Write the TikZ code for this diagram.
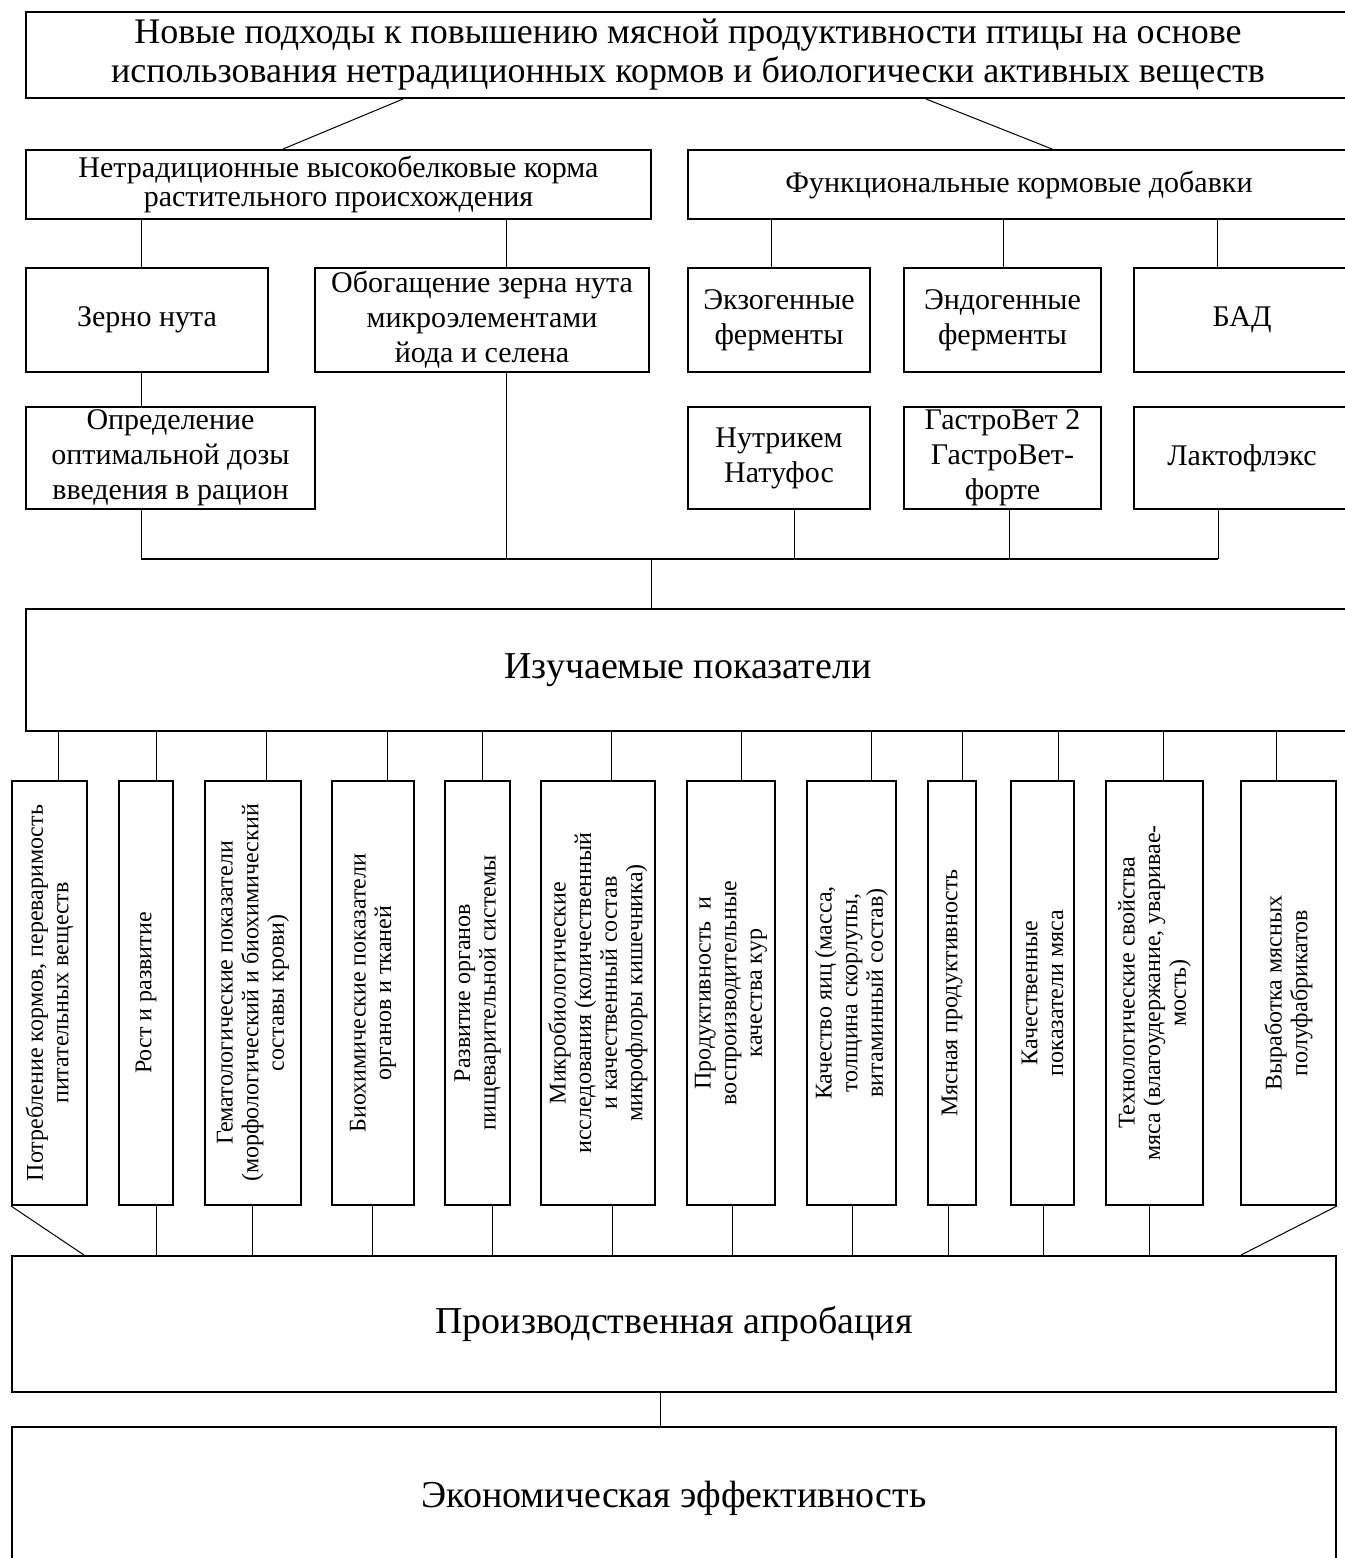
\documentclass[tikz,border=0pt]{standalone}
\usepackage{fontspec}
\setmainfont{Liberation Serif}
\usepackage{tikz}
\newcommand{\topfont}{\fontsize{18}{19.5}\selectfont}
\newcommand{\bigfont}{\fontsize{19}{21}\selectfont}
\newcommand{\secfont}{\fontsize{15}{14.5}\selectfont}
\newcommand{\midfont}{\fontsize{15}{17.5}\selectfont}
\newcommand{\smfont}{\fontsize{12}{12.8}\selectfont}

\begin{document}
\begin{tikzpicture}[x=1pt, y=-1pt,
    box/.style={draw, line width=1pt, align=center, inner sep=0.5pt},
    vbox/.style={box, rotate=90, font=\smfont, minimum width=212pt},
    conn/.style={line width=0.5pt},
    bus/.style={line width=1pt}]

    \useasboundingbox (0,0) rectangle (672,779);

    % top level
    \node[box, font=\topfont, minimum width=662pt, minimum height=43pt] (title) at (344,27.5)
        {Новые подходы к повышению мясной продуктивности птицы на основе\\использования нетрадиционных кормов и биологически активных веществ};

    \node[box, font=\secfont, minimum width=312.5pt, minimum height=34.5pt] (korm) at (169.25,92.25)
        {Нетрадиционные высокобелковые корма\\растительного происхождения};
    \node[box, font=\secfont, minimum width=331pt, minimum height=34.5pt] (dob) at (509.5,92.25)
        {Функциональные кормовые добавки};

    \draw[conn] (title.south -| 201.5,0) -- (korm.north -| 141.5,0);
    \draw[conn] (title.south -| 463,0) -- (dob.north -| 526,0);

    % third row
    \node[box, font=\midfont, minimum width=121pt, minimum height=52pt] (zerno) at (73.5,160) {Зерно нута};
    \node[box, font=\midfont, minimum width=167pt, minimum height=52pt] (obog) at (241,160)
        {Обогащение зерна нута\\микроэлементами\\йода и селена};
    \node[box, font=\midfont, minimum width=91pt, minimum height=52pt] (exo) at (389.5,160) {Экзогенные\\ферменты};
    \node[box, font=\midfont, minimum width=98.5pt, minimum height=52pt] (endo) at (501.25,160) {Эндогенные\\ферменты};
    \node[box, font=\midfont, minimum width=108pt, minimum height=52pt] (bad) at (621,160) {БАД};

    \draw[conn] (korm.south -| 70.5,0) -- (zerno.north -| 70.5,0);
    \draw[conn] (korm.south -| 253,0) -- (obog.north -| 253,0);
    \draw[conn] (dob.south -| 385.5,0) -- (exo.north -| 385.5,0);
    \draw[conn] (dob.south -| 501.5,0) -- (endo.north -| 501.5,0);
    \draw[conn] (dob.south -| 608.5,0) -- (bad.north -| 608.5,0);

    % fourth row
    \node[box, font=\midfont, minimum width=144.5pt, minimum height=51pt] (opr) at (85.25,229)
        {Определение\\оптимальной дозы\\введения в рацион};
    \node[box, font=\midfont, minimum width=91pt, minimum height=51pt] (nutr) at (389.5,229) {Нутрикем\\Натуфос};
    \node[box, font=\midfont, minimum width=98.5pt, minimum height=51pt] (gastro) at (501.25,229)
        {ГастроВет 2\\ГастроВет-\\форте};
    \node[box, font=\midfont, minimum width=108pt, minimum height=51pt] (lakto) at (621,229) {Лактофлэкс};

    \draw[conn] (zerno.south -| 70.5,0) -- (opr.north -| 70.5,0);

    % bus
    \coordinate (busl) at (70.5,279.5);
    \coordinate (busr) at (609,279.5);
    \draw[bus] (busl) -- (busr);
    \draw[conn] (opr.south -| busl) -- (busl);
    \draw[conn] (obog.south -| 253,0) -- (253,0 |- busl);
    \draw[conn] (nutr.south -| 397,0) -- (397,0 |- busl);
    \draw[conn] (gastro.south -| 504.5,0) -- (504.5,0 |- busl);
    \draw[conn] (lakto.south -| busr) -- (busr);

    \node[box, font=\bigfont, minimum width=662pt, minimum height=61pt] (izuch) at (344,335) {Изучаемые показатели};
    \draw[conn] (325.5,0 |- busl) -- (izuch.north -| 325.5,0);

    % indicators
    \node[vbox, minimum height=37.5pt] (v1) at (24.75,496.5) {Потребление кормов, переваримость\\питательных веществ};
    \node[vbox, minimum height=27pt] (v2) at (73,496.5) {Рост и развитие};
    \node[vbox, minimum height=48pt] (v3) at (126.5,496.5)
        {Гематологические показатели\\(морфологический и биохимический\\составы крови)};
    \node[vbox, minimum height=41pt] (v4) at (186.5,496.5) {Биохимические показатели\\органов и тканей};
    \node[vbox, minimum height=32.5pt] (v5) at (238.75,496.5) {Развитие органов\\пищеварительной системы};
    \node[vbox, minimum height=57pt] (v6) at (299,496.5)
        {Микробиологические\\исследования (количественный\\и качественный состав\\микрофлоры кишечника)};
    \node[vbox, minimum height=44pt] (v7) at (365.5,496.5) {Продуктивность~ и\\воспроизводительные\\качества кур};
    \node[vbox, minimum height=44.5pt] (v8) at (425.75,496.5) {Качество яиц (масса,\\толщина скорлупы,\\витаминный состав)};
    \node[vbox, minimum height=24pt] (v9) at (476,496.5) {Мясная продуктивность};
    \node[vbox, minimum height=31.5pt] (v10) at (521.25,496.5) {Качественные\\показатели мяса};
    \node[vbox, minimum height=48.5pt] (v11) at (577.25,496.5)
        {Технологические свойства\\мяса (влагоудержание, уваривае-\\мость)};
    \node[vbox, minimum height=47.5pt] (v12) at (644.25,496.5) {Выработка мясных\\полуфабрикатов};

    \draw[conn] (izuch.south -| 29,0) -- (v1.east -| 29,0);
    \draw[conn] (izuch.south -| 78,0) -- (v2.east -| 78,0);
    \draw[conn] (izuch.south -| 133,0) -- (v3.east -| 133,0);
    \draw[conn] (izuch.south -| 193.5,0) -- (v4.east -| 193.5,0);
    \draw[conn] (izuch.south -| 241,0) -- (v5.east -| 241,0);
    \draw[conn] (izuch.south -| 305.5,0) -- (v6.east -| 305.5,0);
    \draw[conn] (izuch.south -| 370.5,0) -- (v7.east -| 370.5,0);
    \draw[conn] (izuch.south -| 435.5,0) -- (v8.east -| 435.5,0);
    \draw[conn] (izuch.south -| 481,0) -- (v9.east -| 481,0);
    \draw[conn] (izuch.south -| 529,0) -- (v10.east -| 529,0);
    \draw[conn] (izuch.south -| 581.5,0) -- (v11.east -| 581.5,0);
    \draw[conn] (izuch.south -| 638,0) -- (v12.east -| 638,0);

    % bottom
    \node[box, font=\bigfont, minimum width=662pt, minimum height=68pt] (prod) at (337,662) {Производственная апробация};
    \node[box, font=\bigfont, minimum width=662pt, minimum height=71.5pt] (econ) at (337,749.25) {Экономическая эффективность};

    \draw[conn] (v1.north west) -- (prod.north -| 42,0);
    \draw[conn] (v2.west -| 78,0) -- (prod.north -| 78,0);
    \draw[conn] (v3.west -| 126,0) -- (prod.north -| 126,0);
    \draw[conn] (v4.west -| 186,0) -- (prod.north -| 186,0);
    \draw[conn] (v5.west -| 246,0) -- (prod.north -| 246,0);
    \draw[conn] (v6.west -| 306,0) -- (prod.north -| 306,0);
    \draw[conn] (v7.west -| 366,0) -- (prod.north -| 366,0);
    \draw[conn] (v8.west -| 426,0) -- (prod.north -| 426,0);
    \draw[conn] (v9.west -| 474,0) -- (prod.north -| 474,0);
    \draw[conn] (v10.west -| 521.5,0) -- (prod.north -| 521.5,0);
    \draw[conn] (v11.west -| 574.5,0) -- (prod.north -| 574.5,0);
    \draw[conn] (v12.south west) -- (prod.north -| 620.5,0);

    \draw[conn] (prod.south -| 330,0) -- (econ.north -| 330,0);

\end{tikzpicture}
\end{document}
